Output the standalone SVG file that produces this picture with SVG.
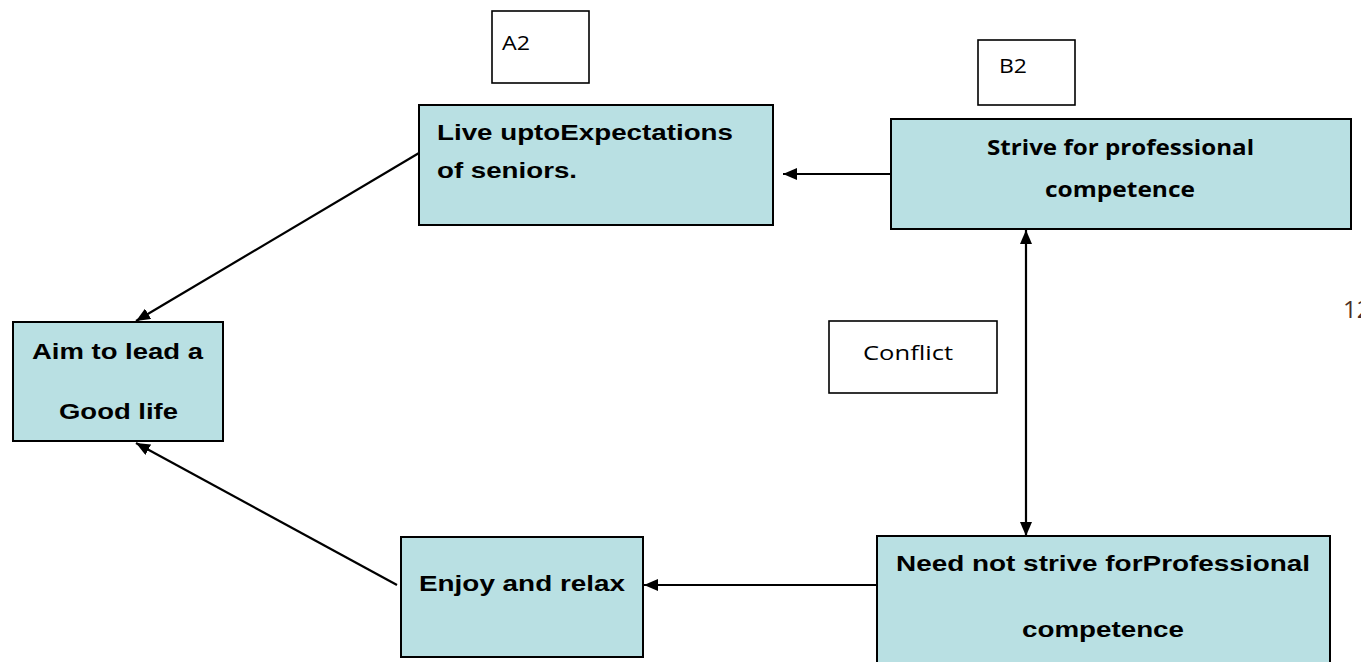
<svg xmlns="http://www.w3.org/2000/svg" width="1361" height="662" viewBox="0 0 1361 662">
<style>
.node{fill:#b9e0e3;stroke:#000;stroke-width:2}
.lab{fill:#fff;stroke:#000;stroke-width:1.6}
.bt{font-family:"Liberation Sans",Arial,sans-serif;font-weight:bold;font-size:22px;fill:#000}
.ct{font-family:"Open Sans","Liberation Sans",sans-serif;font-weight:bold;font-size:21px;fill:#000}
.lt{font-family:"Open Sans","Liberation Sans",sans-serif;font-size:20px;fill:#000}
.edge{stroke:#000;stroke-width:2.2;fill:none}
</style>
<defs>
<marker id="arr" viewBox="0 0 14 12" refX="14" refY="6" markerWidth="14" markerHeight="12" markerUnits="userSpaceOnUse" orient="auto-start-reverse">
<path d="M0,0 L14,6 L0,12 Z" fill="#000"/>
</marker>
</defs>
<rect width="1361" height="662" fill="#fff"/>
<g id="connectors">
<line class="edge" x1="419" y1="153" x2="136" y2="321" marker-end="url(#arr)"/>
<line class="edge" x1="397" y1="585" x2="136" y2="443" marker-end="url(#arr)"/>
<line class="edge" x1="891" y1="174" x2="783" y2="174" marker-end="url(#arr)"/>
<line class="edge" x1="877" y1="585" x2="644" y2="585" marker-end="url(#arr)"/>
<line class="edge" x1="1026" y1="230" x2="1026" y2="536" marker-start="url(#arr)" marker-end="url(#arr)"/>
</g>
<g id="label-a2">
<rect class="lab" x="492" y="11" width="97" height="72"/>
<text class="lt" x="502" y="50" textLength="28" lengthAdjust="spacingAndGlyphs">A2</text>
</g>
<g id="label-b2">
<rect class="lab" x="978" y="40" width="97" height="65"/>
<text class="lt" x="999" y="73" textLength="28" lengthAdjust="spacingAndGlyphs">B2</text>
</g>
<g id="label-conflict">
<rect class="lab" x="829" y="321" width="168" height="72"/>
<text class="lt" x="863" y="360" textLength="90" lengthAdjust="spacingAndGlyphs">Conflict</text>
</g>
<g id="node-live">
<rect class="node" x="419" y="105" width="354" height="120"/>
<text class="bt" x="437" y="140" textLength="296" lengthAdjust="spacingAndGlyphs">Live uptoExpectations</text>
<text class="bt" x="437" y="178" textLength="140" lengthAdjust="spacingAndGlyphs">of seniors.</text>
</g>
<g id="node-strive">
<rect class="node" x="891" y="119" width="460" height="110"/>
<text class="ct" x="987" y="155" textLength="267" lengthAdjust="spacingAndGlyphs">Strive for professional</text>
<text class="ct" x="1045" y="197" textLength="150" lengthAdjust="spacingAndGlyphs">competence</text>
</g>
<g id="node-aim">
<rect class="node" x="13" y="322" width="210" height="119"/>
<text class="bt" x="32" y="359" textLength="171" lengthAdjust="spacingAndGlyphs">Aim to lead a</text>
<text class="bt" x="59" y="419" textLength="119" lengthAdjust="spacingAndGlyphs">Good life</text>
</g>
<g id="node-enjoy">
<rect class="node" x="401" y="537" width="242" height="120"/>
<text class="bt" x="419" y="591" textLength="206" lengthAdjust="spacingAndGlyphs">Enjoy and relax</text>
</g>
<g id="node-need">
<rect class="node" x="877" y="536" width="453" height="140"/>
<text class="bt" x="896" y="571" textLength="414" lengthAdjust="spacingAndGlyphs">Need not strive forProfessional</text>
<text class="bt" x="1022" y="637" textLength="162" lengthAdjust="spacingAndGlyphs">competence</text>
</g>
<text x="1343" y="318" font-family="'Open Sans','Liberation Sans',sans-serif" font-size="24" fill="#4a2e25">12</text>
</svg>
